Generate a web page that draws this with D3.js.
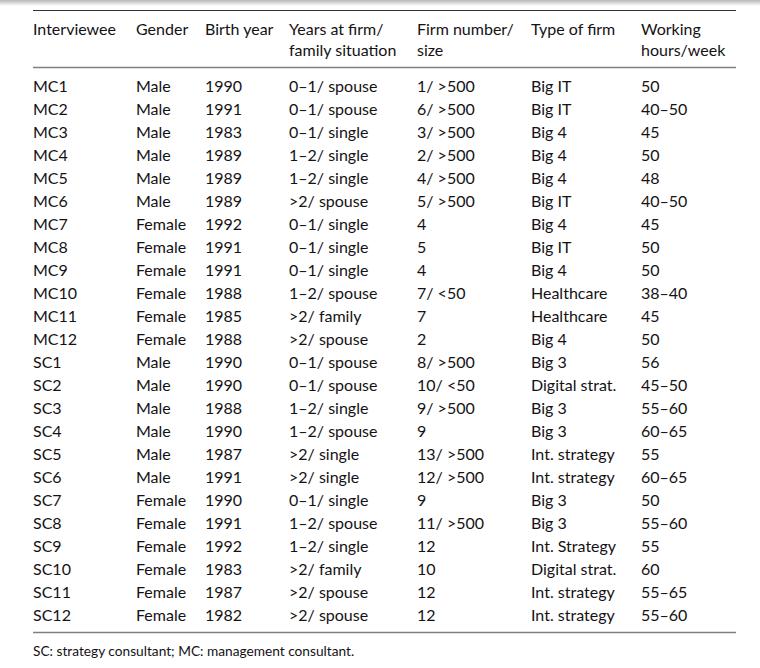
<!DOCTYPE html>
<html><head><meta charset="utf-8">
<script src="https://cdn.jsdelivr.net/npm/d3@7"></script>
<style>html,body{margin:0;padding:0;background:#fff;} svg{display:block;}</style>
</head><body>
<svg id="chart" width="760" height="668"></svg>
<script>
const headers1 = ["Interviewee","Gender","Birth year","Years at firm/","Firm number/","Type of firm","Working"];
const headers2 = ["","","","family situation","size","","hours/week"];
const interviewee = ["MC1","MC2","MC3","MC4","MC5","MC6","MC7","MC8","MC9","MC10","MC11","MC12","SC1","SC2","SC3","SC4","SC5","SC6","SC7","SC8","SC9","SC10","SC11","SC12"];
const gender = ["Male","Male","Male","Male","Male","Male","Female","Female","Female","Female","Female","Female","Male","Male","Male","Male","Male","Male","Female","Female","Female","Female","Female","Female"];
const birthYear = ["1990","1991","1983","1989","1989","1989","1992","1991","1991","1988","1985","1988","1990","1990","1988","1990","1987","1991","1990","1991","1992","1983","1987","1982"];
const yearsFamily = ["0–1/ spouse","0–1/ spouse","0–1/ single","1–2/ single","1–2/ single",">2/ spouse","0–1/ single","0–1/ single","0–1/ single","1–2/ spouse",">2/ family",">2/ spouse","0–1/ spouse","0–1/ spouse","1–2/ single","1–2/ spouse",">2/ single",">2/ single","0–1/ single","1–2/ spouse","1–2/ single",">2/ family",">2/ spouse",">2/ spouse"];
const firmSize = ["1/ >500","6/ >500","3/ >500","2/ >500","4/ >500","5/ >500","4","5","4","7/ <50","7","2","8/ >500","10/ <50","9/ >500","9","13/ >500","12/ >500","9","11/ >500","12","10","12","12"];
const firmType = ["Big IT","Big IT","Big 4","Big 4","Big 4","Big IT","Big 4","Big IT","Big 4","Healthcare","Healthcare","Big 4","Big 3","Digital strat.","Big 3","Big 3","Int. strategy","Int. strategy","Big 3","Big 3","Int. Strategy","Digital strat.","Int. strategy","Int. strategy"];
const hours = ["50","40–50","45","50","48","40–50","45","50","50","38–40","45","50","56","45–50","55–60","60–65","55","60–65","50","55–60","55","60","55–65","55–60"];
const footnote = "SC: strategy consultant; MC: management consultant.";

const columns = [interviewee, gender, birthYear, yearsFamily, firmSize, firmType, hours];
const colX = [33, 136, 205, 289, 417, 531, 641];

const svg = d3.select("#chart");
const font = "Lato, 'Open Sans', sans-serif";
const fs = 16;
const txt = "#141214";

// top shadow
const defs = svg.append("defs");
const g = defs.append("linearGradient").attr("id","sh").attr("x1",0).attr("y1",0).attr("x2",0).attr("y2",1);
g.append("stop").attr("offset","0%").attr("stop-color","#b8b8b8");
g.append("stop").attr("offset","100%").attr("stop-color","#ffffff");
svg.append("rect").attr("x",0).attr("y",0).attr("width",760).attr("height",6).attr("fill","url(#sh)");

const n = interviewee.length;
const y = d3.scaleLinear().domain([0, n-1]).range([92, 621]);
const x = d3.scaleOrdinal().domain(d3.range(columns.length)).range(colX);

// rules
svg.append("line").attr("x1",33).attr("x2",736).attr("y1",10.5).attr("y2",10.5).attr("stroke","#333").attr("stroke-width",1.2);
svg.append("line").attr("x1",33).attr("x2",736).attr("y1",67.5).attr("y2",67.5).attr("stroke","#808080").attr("stroke-width",1.6);
svg.append("line").attr("x1",33).attr("x2",736).attr("y1",632.5).attr("y2",632.5).attr("stroke","#808080").attr("stroke-width",1.6);

const head = svg.append("g").attr("font-family",font).attr("font-size",fs).attr("fill",txt);
head.selectAll("text.h1").data(headers1).join("text").attr("class","h1")
  .attr("x",(d,i)=>x(i)).attr("y",35).text(d=>d);
head.selectAll("text.h2").data(headers2).join("text").attr("class","h2")
  .attr("x",(d,i)=>x(i)).attr("y",56).text(d=>d);

const body = svg.append("g").attr("font-family",font).attr("font-size",fs).attr("fill",txt);
columns.forEach((col, ci) => {
  body.selectAll("text.c"+ci).data(col).join("text").attr("class","c"+ci)
    .attr("x", x(ci)).attr("y",(d,i)=>y(i)).text(d=>d);
});

svg.append("text").attr("font-family",font).attr("font-size",13.7).attr("fill",txt)
  .attr("x",33).attr("y",656).text(footnote);
</script>
</body></html>
